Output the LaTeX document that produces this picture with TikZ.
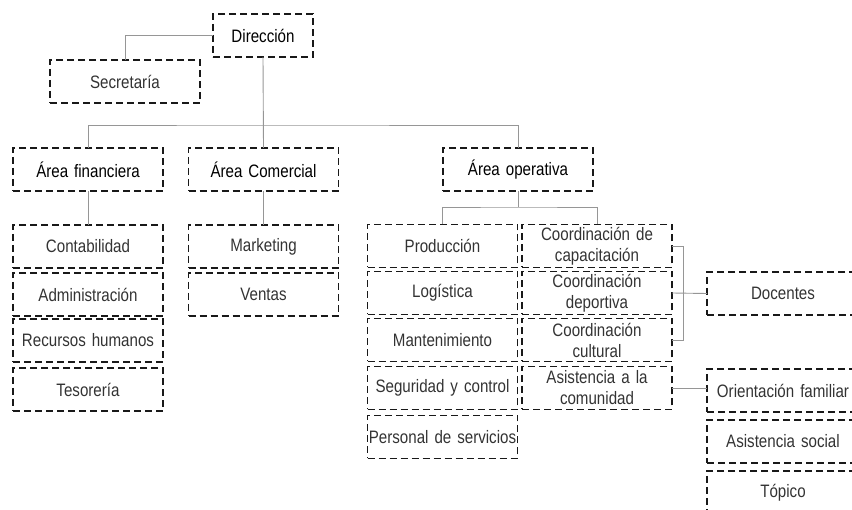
\documentclass[tikz,border=0pt]{standalone}
\usepackage{fontspec}
\setmainfont[FakeStretch=0.84]{Liberation Sans}
\usetikzlibrary{positioning}
\definecolor{primary}{RGB}{25, 25, 25}
\definecolor{secondary}{RGB}{150, 150, 150}

\begin{document}
\begin{tikzpicture}[
                x=1pt, y=-1pt,
                node distance=5pt,
                box/.style={rectangle, draw=primary, line width=1.8pt,
                    dash pattern=on 7pt off 4pt, text width=148pt, align=center,
                    minimum width=150pt, minimum height=43pt, inner sep=1pt,
                    outer sep=0pt, text=black!80,
                    font=\fontsize{18}{21}\selectfont},
                head/.style={box, text=black},
                line/.style={color=secondary, line width=0.9pt}
                ]
                \useasboundingbox (0,0) rectangle (852,510);
                % top
                \node[head, minimum width=100pt, text width=98pt] (dir) at (263,35.5) {Dirección};
                \node[box] (sec) at (125,81.5) {Secretaría};
                \node[head] (fin) at (88,169.5) {Área financiera};
                \node[head] (com) at (263.5,169.5) {Área Comercial};
                \node[head] (ope) at (518,169.5) {Área operativa};
                % area financiera
                \node[box, below=34pt of fin] (conta) {Contabilidad};
                \node[box, below=of conta] (admin) {Administración};
                \node[box, below=3pt of admin] (rrhh) {Recursos humanos};
                \node[box, below=6pt of rrhh] (teso) {Tesorería};
                % area comercial
                \node[box, below=34pt of com] (mkt) {Marketing};
                \node[box, below=of mkt] (ventas) {Ventas};
                % area operativa
                \node[box] (prod) at (442.5,246) {Producción};
                \node[box, below=4pt of prod] (logi) {Logística};
                \node[box, below=4pt of logi] (mant) {Mantenimiento};
                \node[box, below=5pt of mant] (segu) {Seguridad y control};
                \node[box, below=6pt of segu] (pers) {Personal de servicios};
                \node[box] (cap) at (597,246) {Coordinación de\\capacitación};
                \node[box, below=4pt of cap] (dep) {Coordinación\\deportiva};
                \node[box, below=4pt of dep] (cul) {Coordinación\\cultural};
                \node[box, below=5pt of cul] (asis) {Asistencia a la\\comunidad};
                \node[box, minimum width=152pt] (doc) at (783,293.5) {Docentes};
                \node[box, minimum width=152pt] (ofam) at (783,390.5) {Orientación familiar};
                \node[box, minimum width=152pt, below=8pt of ofam] (asoc) {Asistencia social};
                \node[box, minimum width=152pt, below=8pt of asoc] (topi) {Tópico};
                % connectors
                \coordinate (bus) at (263,125);
                \coordinate (opebus) at (518,207);
                \draw[line] (dir.west) -| (sec.north);
                \draw[line] (dir.south) -- (com.north);
                \draw[line] (fin.north) |- (bus) -| (ope.north);
                \draw[line] (fin.south) -- (conta.north);
                \draw[line] (com.south) -- (mkt.north);
                \draw[line] (ope.south) -- (opebus);
                \draw[line] (prod.north) |- (opebus) -| (cap.north);
                \draw[line] (cap.east) -- ++(11,0) |- (cul.east);
                \draw[line] (dep.east) -- (doc.west);
                \draw[line] (asis.east) -- (asis.east -| ofam.west);
            \end{tikzpicture}
\end{document}
